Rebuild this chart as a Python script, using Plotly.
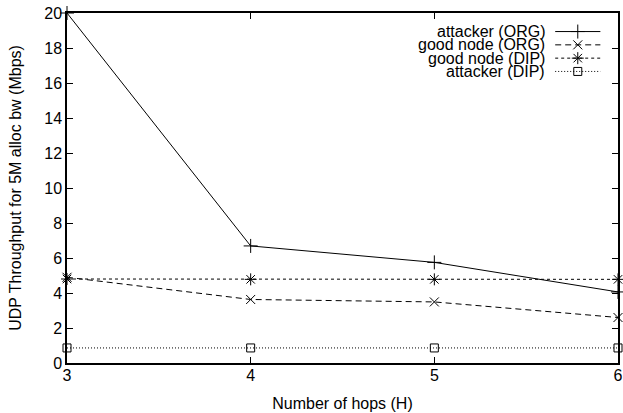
import plotly.graph_objects as go

# ---- data ----
hops = [3, 4, 5, 6]
attacker_org = [20.0, 6.69, 5.75, 4.06]
good_org = [4.9, 3.63, 3.49, 2.6]
good_dip = [4.8, 4.78, 4.78, 4.78]
attacker_dip = [0.86, 0.86, 0.86, 0.86]

series_names = ["attacker (ORG)", "good node (ORG)", "good node (DIP)", "attacker (DIP)"]
x_ticks = [3, 4, 5, 6]
y_ticks = list(range(0, 21, 2))

FONT = "Liberation Sans, Arial, sans-serif"
FS = 16

styles = [
    dict(dash="solid", symbol="cross-thin", size=10),
    dict(dash="6px,4px", symbol="x-thin", size=9),
    dict(dash="3px,3px", symbol="asterisk", size=10),
    dict(dash="1px,2px", symbol="square-open", size=8),
]
values = [attacker_org, good_org, good_dip, attacker_dip]

fig = go.Figure()
for name, vals, st in zip(series_names, values, styles):
    fig.add_trace(go.Scatter(
        x=hops, y=vals, name=name, mode="lines+markers",
        line=dict(color="black", width=1, dash=st["dash"]),
        marker=dict(symbol=st["symbol"], size=st["size"], color="black",
                    line=dict(color="black", width=1)),
        cliponaxis=False, showlegend=False,
    ))

# ---- gnuplot-style key (text right, sample left) on an overlay 0..1 axis ----
key_text_x = 0.872
key_x0, key_x1 = 0.886, 0.968
key_rows = [0.947, 0.909, 0.871, 0.833]
for name, st, ky in zip(series_names, styles, key_rows):
    fig.add_trace(go.Scatter(
        x=[key_x0, key_x1], y=[ky, ky], xaxis="x2", yaxis="y2", mode="lines",
        line=dict(color="black", width=1, dash=st["dash"]), showlegend=False,
        hoverinfo="skip",
    ))
    fig.add_trace(go.Scatter(
        x=[(key_x0 + key_x1) / 2], y=[ky], xaxis="x2", yaxis="y2", mode="markers",
        marker=dict(symbol=st["symbol"], size=st["size"], color="black",
                    line=dict(color="black", width=1)),
        showlegend=False, hoverinfo="skip", cliponaxis=False,
    ))
    fig.add_annotation(x=key_text_x, y=ky, xref="x2", yref="y2", text=name,
                       showarrow=False, xanchor="right", yanchor="middle",
                       font=dict(family=FONT, size=FS, color="black"))

axis_common = dict(
    showline=True, linecolor="black", linewidth=1.5, mirror="ticks",
    ticks="inside", ticklen=6, tickcolor="black", tickwidth=1,
    showgrid=False, zeroline=False, automargin=False,
    tickfont=dict(family=FONT, size=FS, color="black"),
)

fig.update_layout(
    width=623, height=413,
    margin=dict(l=67, r=5, t=13, b=50, autoexpand=False),
    paper_bgcolor="white", plot_bgcolor="white",
    font=dict(family=FONT, size=FS, color="black"),
    xaxis=dict(range=[3, 6], tickvals=x_ticks, **axis_common, ticklabelstandoff=-3,
               title=dict(text="Number of hops (H)", standoff=15,
                          font=dict(family=FONT, size=FS))),
    yaxis=dict(range=[0, 20], tickvals=y_ticks, **axis_common,
               title=dict(text="UDP Throughput for 5M alloc bw (Mbps)", standoff=19,
                          font=dict(family=FONT, size=FS))),
    xaxis2=dict(range=[0, 1], overlaying="x", visible=False, fixedrange=True),
    yaxis2=dict(range=[0, 1], overlaying="y", visible=False, fixedrange=True),
    showlegend=False,
)

fig.write_html("out.html", config={"displayModeBar": False},
               post_script="document.body.style.margin='0';")
